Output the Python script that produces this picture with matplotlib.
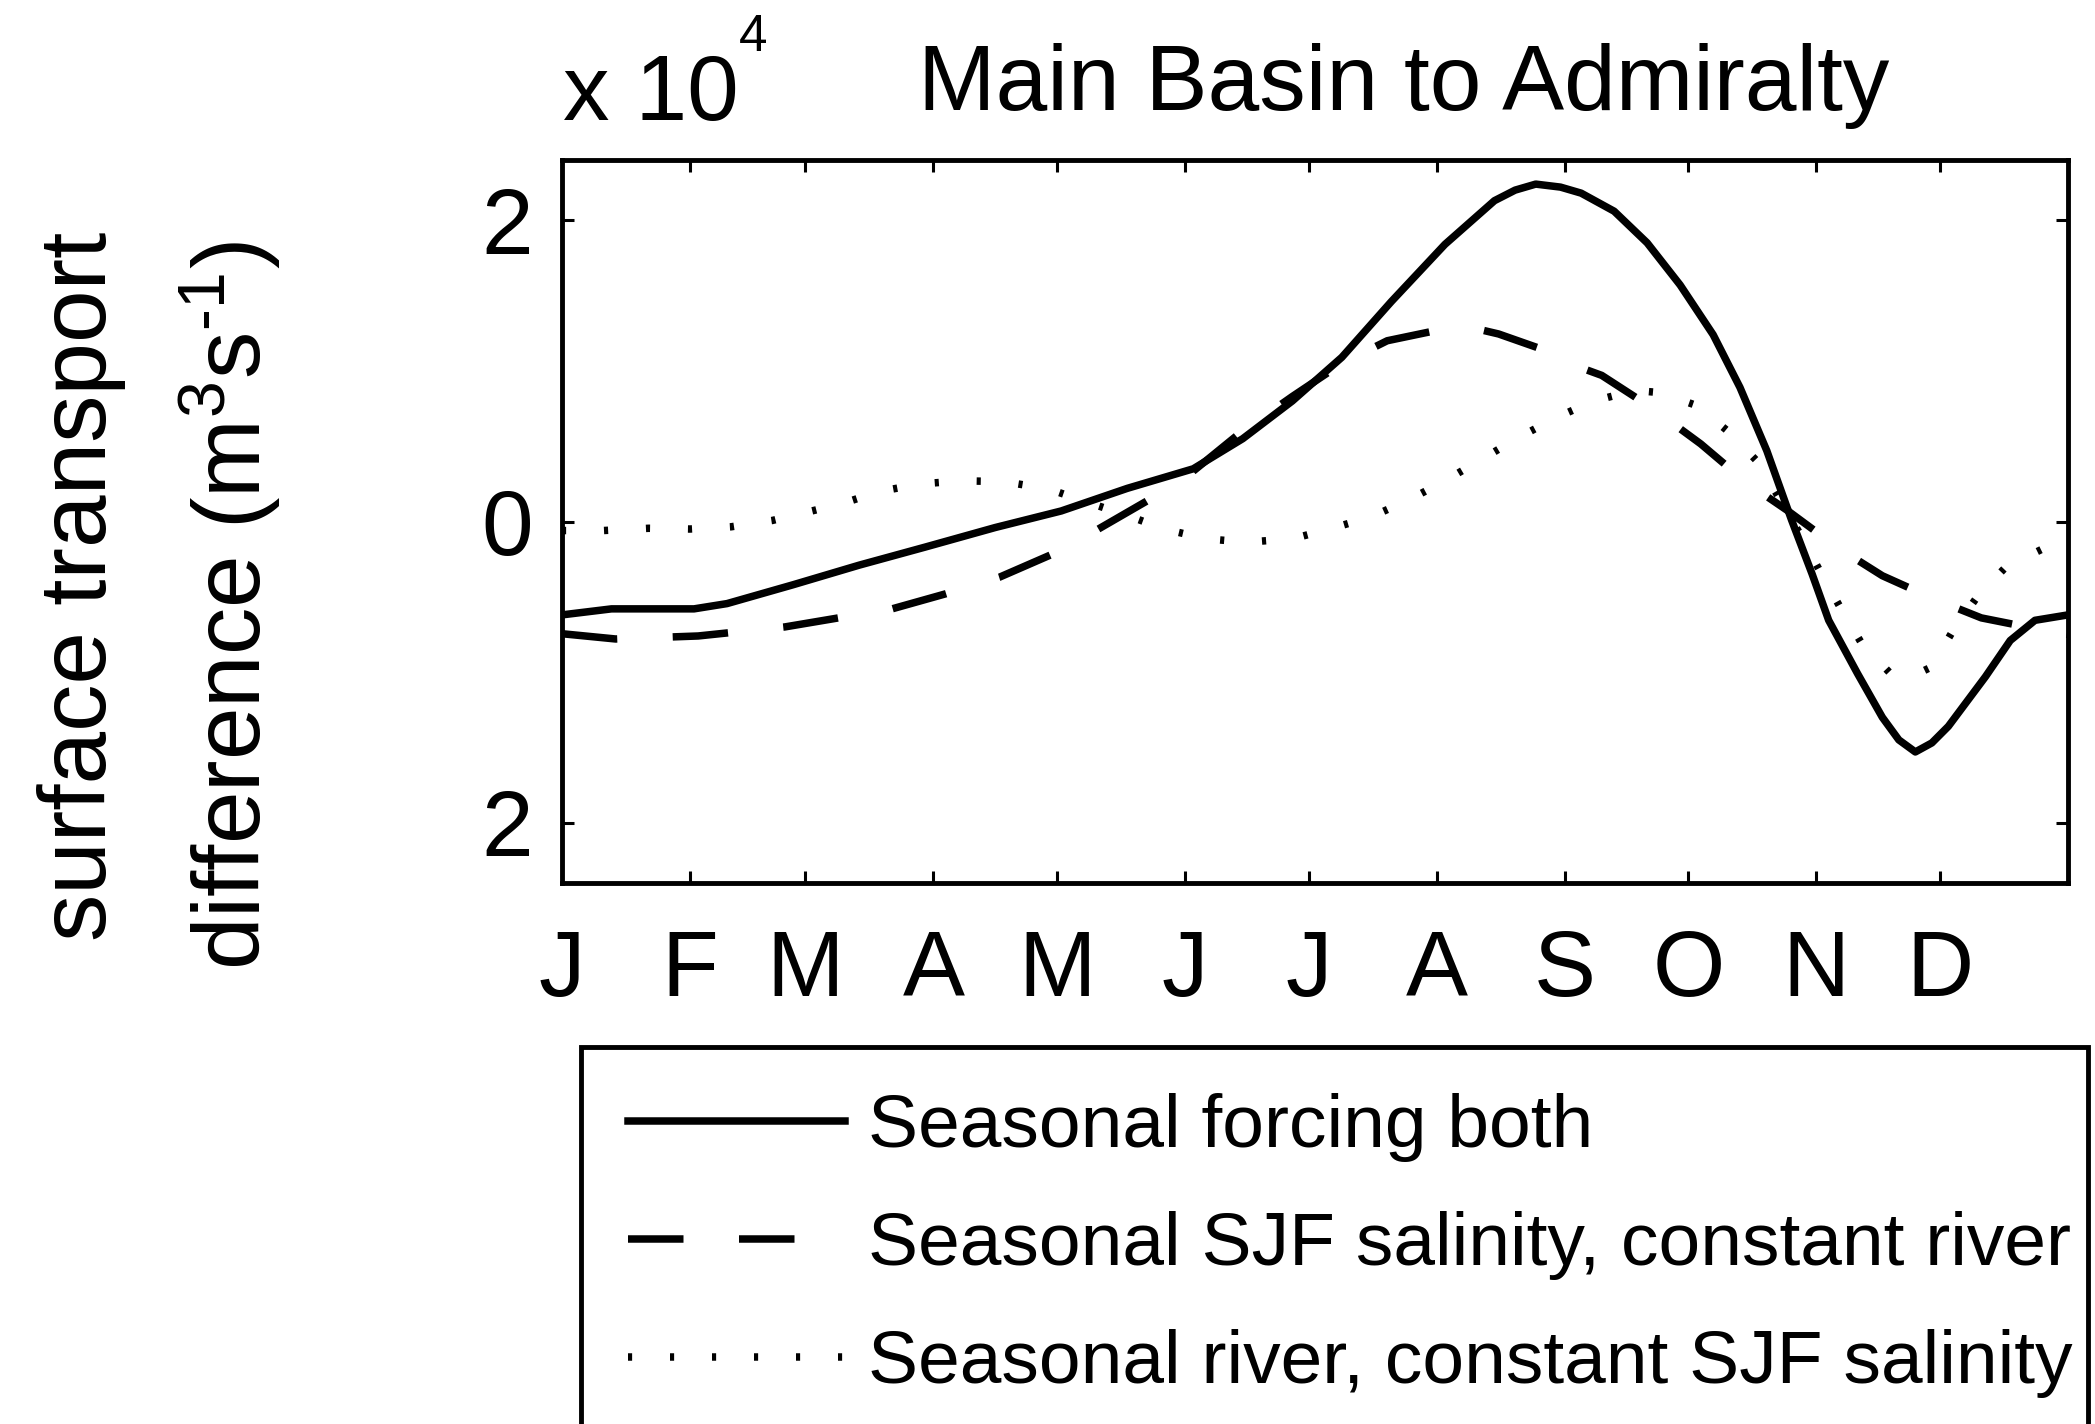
import matplotlib
matplotlib.use('Agg')
import matplotlib.pyplot as plt
from matplotlib.patches import Rectangle

plt.rcParams['font.family'] = ['Liberation Sans', 'DejaVu Sans']
plt.rcParams['mathtext.fontset'] = 'custom'
plt.rcParams['mathtext.rm'] = 'Liberation Sans'
plt.rcParams['mathtext.it'] = 'Liberation Sans:italic'
plt.rcParams['mathtext.bf'] = 'Liberation Sans:bold'
plt.rcParams['mathtext.default'] = 'regular'

# ---------------- data (values in units of 1e4 m^3 s^-1, x in day of year) ----------------
month_days = [0, 31, 59, 90, 120, 151, 181, 212, 243, 273, 304, 334]
month_labels = ['J', 'F', 'M', 'A', 'M', 'J', 'J', 'A', 'S', 'O', 'N', 'D']

both_day = [0, 12, 32, 40, 56, 72, 88, 105, 121, 137, 153, 165, 177, 189, 201, 214,
            226, 231, 236, 242, 247, 255, 263, 271, 279, 285.5, 292, 298, 303, 307, 314,
            320, 324, 328, 332, 336, 345, 351, 357, 365]
both_val = [-0.62, -0.58, -0.58, -0.545, -0.42, -0.29, -0.17, -0.04, 0.07, 0.22, 0.35,
            0.55, 0.80, 1.09, 1.46, 1.84, 2.13, 2.20, 2.24, 2.22, 2.18, 2.06, 1.85, 1.57,
            1.24, 0.89, 0.47, 0.01, -0.35, -0.656, -1.01, -1.30, -1.45, -1.53, -1.47,
            -1.36, -1.03, -0.79, -0.656, -0.62]

sjf_day = [0, 13, 33, 54, 80, 93, 106, 119, 125, 130, 142, 151, 164, 177, 189, 200,
           214, 220, 227, 240, 247, 252, 264, 276, 287, 297, 309, 320, 333, 344, 355, 365]
sjf_val = [-0.745, -0.78, -0.76, -0.70, -0.58, -0.48, -0.37, -0.215, -0.10, -0.05, 0.14,
           0.29, 0.58, 0.83, 1.05, 1.20, 1.28, 1.29, 1.245, 1.12, 1.02, 0.97, 0.757, 0.515,
           0.26, 0.073, -0.17, -0.36, -0.52, -0.64, -0.70, -0.75]

river_day = [0, 10, 21, 31, 41, 51, 61, 68, 77, 87, 97, 107, 118, 126, 137, 146, 156, 166,
             177, 186, 196, 205, 214, 223, 232, 241, 250, 260, 266, 275, 283, 290, 300, 305,
             310, 315, 322, 327, 332, 337, 343, 350, 359, 365]
river_val = [-0.06, -0.06, -0.045, -0.05, -0.035, 0.007, 0.073, 0.12, 0.20, 0.25, 0.27,
             0.265, 0.216, 0.14, 0.04, -0.05, -0.115, -0.137, -0.115, -0.05, 0.03, 0.14,
             0.27, 0.415, 0.56, 0.69, 0.80, 0.87, 0.856, 0.77, 0.59, 0.39, -0.08, -0.336,
             -0.58, -0.81, -1.01, -1.03, -0.965, -0.73, -0.50, -0.30, -0.18, -0.11]

labels = ['Seasonal forcing both',
          'Seasonal SJF salinity, constant river',
          'Seasonal river, constant SJF salinity']

# ---------------- figure ----------------
W, H = 2095, 1424
fig = plt.figure(figsize=(W / 100, H / 100), dpi=100)


def fx(px):
    return px / W


def fy(py):
    return 1 - py / H


ax = fig.add_axes([fx(562), fy(883), (2068 - 562) / W, (883 - 160) / H])

LW = 5.4
l1, = ax.plot(both_day, both_val, color='black', lw=LW, solid_joinstyle='round')
l2, = ax.plot(sjf_day, sjf_val, color='black', lw=LW, linestyle=(0, (7.4, 7.4)))
l3, = ax.plot(river_day, river_val, color='black', lw=LW, linestyle=(0, (0.55, 5.05)))

ax.set_xlim(0, 365)
ax.set_ylim(-2.4, 2.4)
ax.set_xticks(month_days)
ax.set_xticklabels(month_labels)
ax.set_yticks([-2, 0, 2])
ax.set_yticklabels(['2', '0', '2'])
ax.tick_params(axis='both', direction='in', length=8.6, width=2.2,
               top=True, right=True, labelsize=67, color='black')
ax.tick_params(axis='x', pad=33)
ax.tick_params(axis='y', pad=21)
for s in ax.spines.values():
    s.set_linewidth(3.5)
    s.set_color('black')

# title and exponent
fig.text(fx(918), fy(110), 'Main Basin to Admiralty', fontsize=67, ha='left', va='baseline')
fig.text(fx(563), fy(120), 'x 10', fontsize=67, ha='left', va='baseline')
fig.text(fx(739), fy(51), '4', fontsize=37, ha='left', va='baseline')

# y label (two lines)
fig.text(fx(106), fy(586), 'surface transport', rotation=90, rotation_mode='anchor',
         ha='center', va='baseline', fontsize=68)
fig.text(fx(261), fy(606), 'difference (m$^3$s$^{\u20101}$)', rotation=90,
         rotation_mode='anchor', ha='center', va='baseline', fontsize=68)

# legend (frame drawn separately; it runs past the figure bottom as in the original)
leg = fig.legend([l1, l2, l3], labels, loc='upper left',
                 bbox_to_anchor=(fx(581), fy(1047)), bbox_transform=fig.transFigure,
                 borderaxespad=0, fontsize=54, handlelength=2.9, handletextpad=0.3,
                 borderpad=0.62, labelspacing=0.65, frameon=False)
fig.patches.append(Rectangle((fx(581), fy(1520)), fx(2088) - fx(581), fy(1047) - fy(1520),
                             transform=fig.transFigure, fill=False, lw=3.5,
                             edgecolor='black', figure=fig))

fig.savefig('out.png', dpi=100)
